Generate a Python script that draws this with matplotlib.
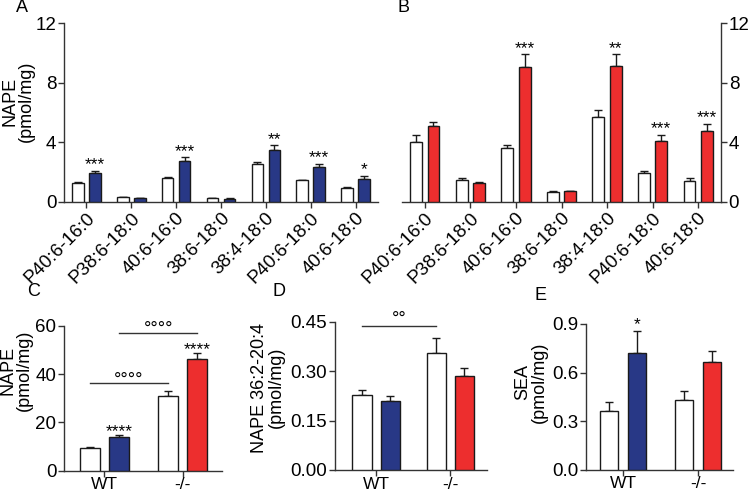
import numpy as np
import matplotlib
matplotlib.use("Agg")
from matplotlib import pyplot as plt

plt.rcParams["font.family"] = ["Liberation Sans", "DejaVu Sans"]
plt.rcParams["font.size"] = 13

BLUE = "#283886"
RED = "#ED2E2E"
EDGE = "#1a1a1a"

# lipid species (panels A, B)
lipids = ["P40:6-16:0", "P38:6-18:0", "40:6-16:0", "38:6-18:0",
          "38:4-18:0", "P40:6-18:0", "40:6-18:0"]

a_ctrl = [1.29, 0.31, 1.63, 0.25, 2.52, 1.45, 0.92]
a_ctrl_err = [0.05, 0.03, 0.07, 0.02, 0.14, 0.03, 0.06]
a_trt = [1.96, 0.27, 2.75, 0.22, 3.50, 2.37, 1.54]
a_trt_err = [0.12, 0.02, 0.24, 0.02, 0.30, 0.17, 0.22]
a_stars = ["***", "", "***", "", "**", "***", "*"]

b_ctrl = [4.04, 1.47, 3.59, 0.69, 5.73, 1.92, 1.43]
b_ctrl_err = [0.44, 0.11, 0.24, 0.03, 0.47, 0.15, 0.17]
b_trt = [5.10, 1.29, 9.03, 0.74, 9.12, 4.10, 4.73]
b_trt_err = [0.27, 0.03, 0.87, 0.03, 0.78, 0.38, 0.53]
b_stars = ["", "", "***", "", "**", "***", "***"]

# genotype summaries (panels C, D, E)
genotypes = ["WT", "-/-"]

c_ctrl = [9.5, 30.8]
c_ctrl_err = [0.3, 2.3]
c_trt = [13.9, 46.5]
c_trt_err = [1.0, 2.3]
c_stars = ["****", "****"]
c_bracket_low = 36.3
c_bracket_high = 57.2

d_ctrl = [0.227, 0.356]
d_ctrl_err = [0.016, 0.046]
d_trt = [0.208, 0.285]
d_trt_err = [0.018, 0.024]
d_stars = ["", ""]
d_bracket = 0.436

e_ctrl = [0.360, 0.432]
e_ctrl_err = [0.055, 0.051]
e_trt = [0.719, 0.666]
e_trt_err = [0.138, 0.068]
e_stars = ["*", ""]

TICK_SIZE = 13.5
LABEL_SIZE = 13


def style_axis(ax, side="left"):
    """Prism-like spines: one y spine plus the x spine, outward ticks."""
    ax.spines["top"].set_visible(False)
    other = "right" if side == "left" else "left"
    ax.spines[other].set_visible(False)
    for s in ("bottom", side):
        ax.spines[s].set_linewidth(1.0)
        ax.spines[s].set_color("#333333")
    if side == "right":
        ax.yaxis.tick_right()
    ax.tick_params(axis="both", direction="out", length=4, width=1.0,
                   color="#333333", labelsize=TICK_SIZE, pad=1.5)


def draw_pairs(ax, ctrl, ctrl_err, trt, trt_err, colors, stars,
               width=0.26, offset=0.19, star_off=0):
    x = np.arange(len(ctrl))
    ax.bar(x - offset, ctrl, width, color="white", edgecolor=EDGE, linewidth=1.0, zorder=3)
    ax.bar(x + offset, trt, width, color=colors, edgecolor=EDGE, linewidth=1.0, zorder=3)
    zeros = np.zeros(len(ctrl))
    ax.errorbar(x - offset, ctrl, yerr=[zeros, ctrl_err], fmt="none", ecolor=EDGE,
                elinewidth=1.0, capsize=3, capthick=1.0, zorder=2)
    ax.errorbar(x + offset, trt, yerr=[zeros, trt_err], fmt="none", ecolor=EDGE,
                elinewidth=1.0, capsize=3, capthick=1.0, zorder=2)
    for xi, m, e, s in zip(x, trt, trt_err, stars):
        if s:
            ax.annotate(s, (xi + offset, m + e), xytext=(0, star_off),
                        textcoords="offset points", ha="center", va="bottom",
                        fontsize=12.5)
    return x


def bracket(ax, x0, x1, y, text, fontsize=12, text_off=1):
    ax.plot([x0, x1], [y, y], color="#333333", linewidth=1.0, clip_on=False)
    ax.annotate(text, ((x0 + x1) / 2, y), xytext=(0, text_off),
                textcoords="offset points", ha="center", va="bottom",
                fontsize=fontsize)


def set_ylabel(ax, text, x, y):
    # x is the right edge of the rotated two-line label, in axes units
    ax.set_ylabel(text, fontsize=LABEL_SIZE, linespacing=0.95)
    ax.yaxis.set_label_coords(x, y)


def genotype_ticks(ax):
    ax.set_xticks([0, 1])
    ax.set_xticklabels(genotypes)
    ax.tick_params(axis="x", labelsize=12.5, pad=1)


W, H = 748, 493
fig = plt.figure(figsize=(W / 100, H / 100), dpi=100)


def px_axes(left, right, top, bottom):
    return fig.add_axes((left / W, 1 - bottom / H, (right - left) / W, (bottom - top) / H))


# Panel A
axA = px_axes(64, 378, 23, 202)
style_axis(axA)
xA = draw_pairs(axA, a_ctrl, a_ctrl_err, a_trt, a_trt_err, BLUE, a_stars, star_off=-1)
axA.set_xlim(-0.5, 6.5)
axA.set_ylim(0, 12)
axA.set_yticks([0, 4, 8, 12])
axA.set_xticks(xA)
axA.set_xticklabels(lipids, rotation=45, ha="right", rotation_mode="anchor")
set_ylabel(axA, "NAPE\n(pmol/mg)", -0.092, 0.56)

# Panel B
axB = px_axes(402, 721, 23, 202)
style_axis(axB, side="right")
xB = draw_pairs(axB, b_ctrl, b_ctrl_err, b_trt, b_trt_err, RED, b_stars, star_off=-1)
axB.set_xlim(-0.5, 6.5)
axB.set_ylim(0, 12)
axB.set_yticks([0, 4, 8, 12])
axB.set_xticks(xB)
axB.set_xticklabels(lipids, rotation=45, ha="right", rotation_mode="anchor")

# Panel C
axC = px_axes(64, 222, 326, 470.5)
style_axis(axC)
draw_pairs(axC, c_ctrl, c_ctrl_err, c_trt, c_trt_err, [BLUE, RED], c_stars,
           width=0.256, offset=0.186, star_off=-3)
axC.set_xlim(-0.518, 1.503)
axC.set_ylim(0, 60)
axC.set_yticks([0, 20, 40, 60])
genotype_ticks(axC)
bracket(axC, -0.186, 1 - 0.186, c_bracket_low, "°°°°", fontsize=13, text_off=-4)
bracket(axC, 0.186, 1 + 0.186, c_bracket_high, "°°°°", fontsize=13, text_off=-4)
set_ylabel(axC, "NAPE\n(pmol/mg)", -0.196, 0.69)

# Panel D
axD = px_axes(335, 487, 321.7, 470)
style_axis(axD)
draw_pairs(axD, d_ctrl, d_ctrl_err, d_trt, d_trt_err, [BLUE, RED], d_stars,
           width=0.257, offset=0.19)
axD.set_xlim(-0.554, 1.496)
axD.set_ylim(0, 0.45)
axD.set_yticks([0, 0.15, 0.30, 0.45])
axD.set_yticklabels(["0.00", "0.15", "0.30", "0.45"])
genotype_ticks(axD)
bracket(axD, -0.19, 1 - 0.19, d_bracket, "°°", fontsize=13, text_off=-1)
set_ylabel(axD, "NAPE 36:2-20:4\n(pmol/mg)", -0.33, 0.555)

# Panel E
axE = px_axes(586, 733, 324, 469.5)
style_axis(axE)
draw_pairs(axE, e_ctrl, e_ctrl_err, e_trt, e_trt_err, [BLUE, RED], e_stars,
           width=0.247, offset=0.187, star_off=-1)
axE.set_xlim(-0.493, 1.467)
axE.set_ylim(0, 0.9)
axE.set_yticks([0, 0.3, 0.6, 0.9])
axE.set_yticklabels(["0.0", "0.3", "0.6", "0.9"])
genotype_ticks(axE)
set_ylabel(axE, "SEA\n(pmol/mg)", -0.26, 0.6)

# Panel letters
for letter, (px, py) in {"A": (22, 8), "B": (403, 8), "C": (34, 292),
                         "D": (279, 292), "E": (540, 295)}.items():
    fig.text(px / W, 1 - py / H, letter, fontsize=13, ha="center", va="center")

fig.savefig("out.png", dpi=100)
